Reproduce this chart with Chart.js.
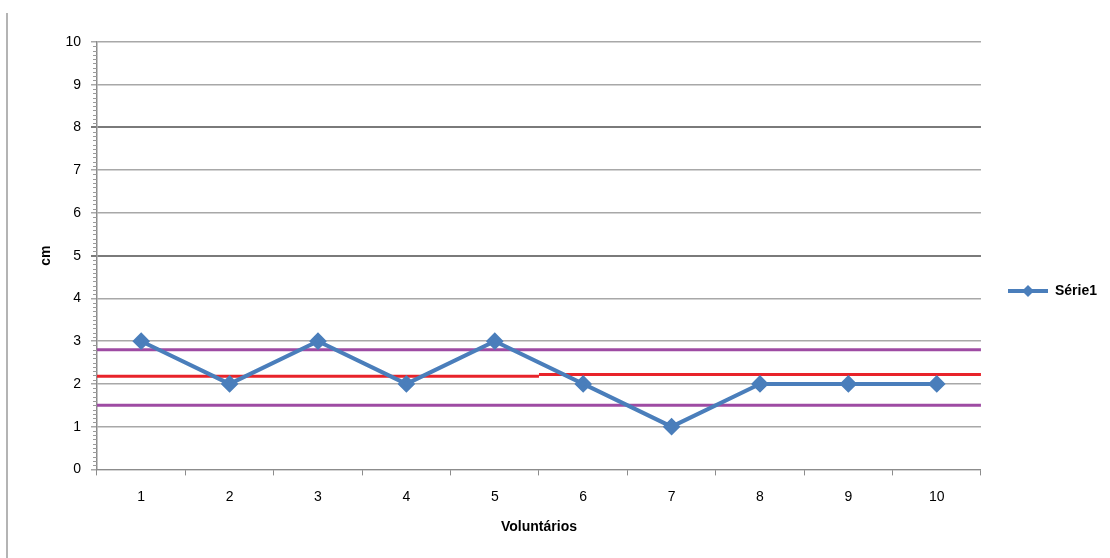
<!DOCTYPE html>
<html>
<head>
<meta charset="utf-8">
<script src="https://cdn.jsdelivr.net/npm/chart.js@4.4.0/dist/chart.umd.min.js"></script>
<style>
  html, body { margin: 0; padding: 0; background: #fff; }
  #wrap { width: 1110px; height: 558px; position: relative; }
</style>
</head>
<body>
<div id="wrap"><canvas id="chart"></canvas></div>
<script>
// data
const volunteers = ['1', '2', '3', '4', '5', '6', '7', '8', '9', '10'];
const serie1 = [3, 2, 3, 2, 3, 2, 1, 2, 2, 2];
const meanLeft = 2.18;   // red line, volunteers 1-5
const meanRight = 2.22;  // red line, volunteers 6-10
const upperLimit = 2.8;  // purple
const lowerLimit = 1.5;  // purple
const yTicks = [0, 1, 2, 3, 4, 5, 6, 7, 8, 9, 10];

const blue = '#4a7ebb';
const red = '#e8232a';
const purple = '#9e4ba3';
const font = "'Liberation Sans', Arial, sans-serif";

// small picture for the legend: line with a diamond on it (blank margin on the left)
function legendIcon() {
  const c = document.createElement('canvas');
  c.width = 57; c.height = 14;
  const g = c.getContext('2d');
  g.strokeStyle = blue; g.lineWidth = 4;
  g.beginPath(); g.moveTo(17, 7); g.lineTo(57, 7); g.stroke();
  g.fillStyle = blue;
  g.beginPath(); g.moveTo(37, 1); g.lineTo(43, 7); g.lineTo(37, 13); g.lineTo(31, 7); g.closePath(); g.fill();
  return c;
}

// the image border on the left and minor ticks of the value axis
const extras = {
  id: 'extras',
  beforeDraw(chart) {
    const ctx = chart.ctx;
    ctx.save();
    ctx.strokeStyle = '#b4b4b4';
    ctx.lineWidth = 2;
    ctx.beginPath(); ctx.moveTo(7, 13); ctx.lineTo(7, 558); ctx.stroke();
    ctx.restore();
  },
  afterDraw(chart) {
    const y = chart.scales.y;
    const ctx = chart.ctx;
    ctx.save();
    ctx.strokeStyle = '#9a9a9a';
    ctx.lineWidth = 1;
    for (let i = 0; i <= 100; i++) {
      if (i % 10 === 0) continue;
      const py = Math.round(y.getPixelForValue(i / 10)) + 0.5;
      ctx.beginPath(); ctx.moveTo(y.right - 4, py); ctx.lineTo(y.right, py); ctx.stroke();
    }
    ctx.restore();
  }
};

const refLine = (label, color, y0, y1, x0, x1) => ({
  label, type: 'line', xAxisID: 'xr',
  data: [{x: x0, y: y0}, {x: x1, y: y1}],
  borderColor: color, borderWidth: 3, pointRadius: 0, fill: false, order: 2
});

new Chart(document.getElementById('chart'), {
  type: 'line',
  data: {
    labels: volunteers,
    datasets: [
      {
        label: 'Série1', data: serie1, borderColor: blue, backgroundColor: blue,
        borderWidth: 4, pointStyle: 'rectRot', pointRadius: 6, pointHoverRadius: 6,
        tension: 0, order: 1
      },
      refLine('sup', purple, upperLimit, upperLimit, 0.5, 10.5),
      refLine('inf', purple, lowerLimit, lowerLimit, 0.5, 10.5),
      refLine('media1', red, meanLeft, meanLeft, 0.5, 5.5),
      refLine('media2', red, meanRight, meanRight, 5.5, 10.5)
    ]
  },
  options: {
    responsive: true,
    maintainAspectRatio: false,
    animation: false,
    layout: { padding: { top: 42, right: 3, left: 34, bottom: 18 } },
    plugins: {
      tooltip: { enabled: false },
      legend: {
        position: 'right',
        labels: {
          font: { family: font, size: 14, weight: 'bold' },
          color: '#000',
          usePointStyle: true,
          pointStyleWidth: 57,
          generateLabels: () => [{ text: 'Série1', pointStyle: legendIcon(), datasetIndex: 0, fillStyle: blue, strokeStyle: blue, lineWidth: 0 }],
          padding: 10
        }
      }
    },
    scales: {
      x: {
        type: 'category',
        offset: true,
        grid: { offset: true, drawOnChartArea: false, drawTicks: true, tickLength: 6, color: '#8c8c8c' },
        border: { color: '#8c8c8c', width: 1 },
        ticks: { color: '#000', font: { family: font, size: 14 }, padding: 13 },
        title: { display: true, text: 'Voluntários', color: '#000', font: { family: font, size: 14, weight: 'bold' }, padding: { top: 1 } }
      },
      xr: { type: 'linear', min: 0.5, max: 10.5, display: false },
      y: {
        min: 0, max: 10,
        afterFit(scale) { scale.width = 63; },
        afterBuildTicks(scale) { scale.ticks = yTicks.map(v => ({ value: v })); },
        grid: {
          color: ctx => (ctx.tick && (ctx.tick.value === 5 || ctx.tick.value === 8)) ? '#7a7a7a' : '#a8a8a8',
          lineWidth: ctx => (ctx.tick && (ctx.tick.value === 5 || ctx.tick.value === 8)) ? 2 : 1.5,
          tickLength: 6
        },
        border: { color: '#8c8c8c', width: 1.5 },
        ticks: { color: '#000', font: { family: font, size: 14 }, padding: 10 },
        title: { display: true, text: 'cm', color: '#000', font: { family: font, size: 14, weight: 'bold' }, padding: { bottom: 4 } }
      }
    }
  },
  plugins: [extras]
});
</script>
</body>
</html>
